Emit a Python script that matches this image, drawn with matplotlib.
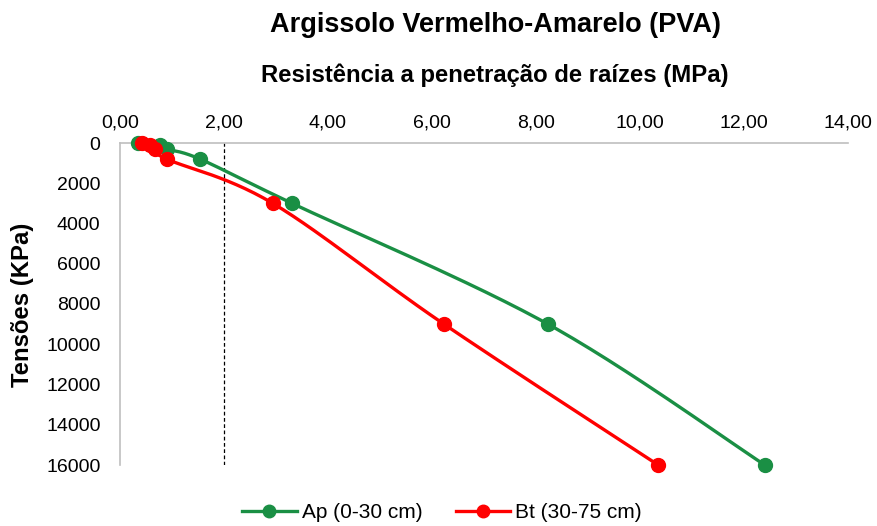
import numpy as np
import matplotlib
matplotlib.use("Agg")
import matplotlib.pyplot as plt
from matplotlib.ticker import FuncFormatter, MultipleLocator

plt.rcParams['font.family'] = ['Liberation Sans', 'DejaVu Sans']

tensions = [10, 100, 300, 800, 3000, 9000, 16000]
ap_resist = [0.35, 0.77, 0.90, 1.54, 3.31, 8.23, 12.40]
bt_resist = [0.42, 0.58, 0.67, 0.90, 2.94, 6.23, 10.35]
series_labels = ["Ap (0-30 cm)", "Bt (30-75 cm)"]
colors = ["#1A8F44", "#FF0000"]


def smooth(x, y, n=30):
    # Catmull-Rom style smoothing (similar to Excel's smoothed line)
    x = np.asarray(x, float); y = np.asarray(y, float)
    px = np.concatenate([[x[0]], x, [x[-1]]])
    py = np.concatenate([[y[0]], y, [y[-1]]])
    xs, ys = [], []
    t = np.linspace(0, 1, n)
    for i in range(1, len(px) - 2):
        p0, p1, p2, p3 = [np.array([px[j], py[j]]) for j in (i - 1, i, i + 1, i + 2)]
        c1 = p1 + (p2 - p0) / 6
        c2 = p2 - (p3 - p1) / 6
        pts = ((1 - t) ** 3)[:, None] * p1 + (3 * (1 - t) ** 2 * t)[:, None] * c1 \
            + (3 * (1 - t) * t ** 2)[:, None] * c2 + (t ** 3)[:, None] * p2
        xs.extend(pts[:, 0]); ys.extend(pts[:, 1])
    return np.array(xs), np.array(ys)


W, H = 878, 526
fig = plt.figure(figsize=(W / 100, H / 100), dpi=100)
ax = fig.add_axes([120 / W, 1 - 465 / H, (848 - 120) / W, (465 - 143) / H])

handles = []
for vals, lab, c in zip([ap_resist, bt_resist], series_labels, colors):
    sx, sy = smooth(vals, tensions)
    ax.plot(sx, sy, color=c, lw=2.4, zorder=3, clip_on=False)
    ax.plot(vals, tensions, 'o', color=c, ms=10, zorder=4, clip_on=False)
    h, = ax.plot([], [], color=c, lw=2.4, marker='o', ms=9, label=lab)
    handles.append(h)

ax.axvline(2.0, color='black', lw=0.9, ls=(0, (3, 2)), zorder=2)

ax.set_xlim(0, 14)
ax.set_ylim(16000, 0)
ax.xaxis.set_major_locator(MultipleLocator(2))
ax.yaxis.set_major_locator(MultipleLocator(2000))
ax.xaxis.set_major_formatter(FuncFormatter(lambda v, p: f"{v:.2f}".replace('.', ',')))
ax.xaxis.tick_top()
ax.tick_params(axis='both', length=0, labelsize=14)
ax.tick_params(axis='x', pad=8.5)
ax.tick_params(axis='y', pad=14)
for s in ['bottom', 'right']:
    ax.spines[s].set_visible(False)
for s in ['top', 'left']:
    ax.spines[s].set_color('#BFBFBF')
    ax.spines[s].set_linewidth(1.2)

fig.text(496 / W, 1 - 32 / H, "Argissolo Vermelho-Amarelo (PVA)", fontsize=19.5, fontweight='bold',
         ha='center', va='baseline')
fig.text(495 / W, 1 - 82 / H, "Resistência a penetração de raízes (MPa)", fontsize=17.2,
         fontweight='bold', ha='center', va='baseline')
fig.text(23 / W, 1 - 305 / H, "Tensões (KPa)", fontsize=17.2, fontweight='bold',
         ha='center', va='center', rotation=90)

fig.legend(handles=handles, loc='center', bbox_to_anchor=(442 / W, 1 - 513 / H), ncol=2,
           frameon=False, fontsize=15, handlelength=2.6, columnspacing=1.6, handletextpad=0.25,
           borderpad=0, borderaxespad=0)

fig.savefig("out.png", dpi=100)
